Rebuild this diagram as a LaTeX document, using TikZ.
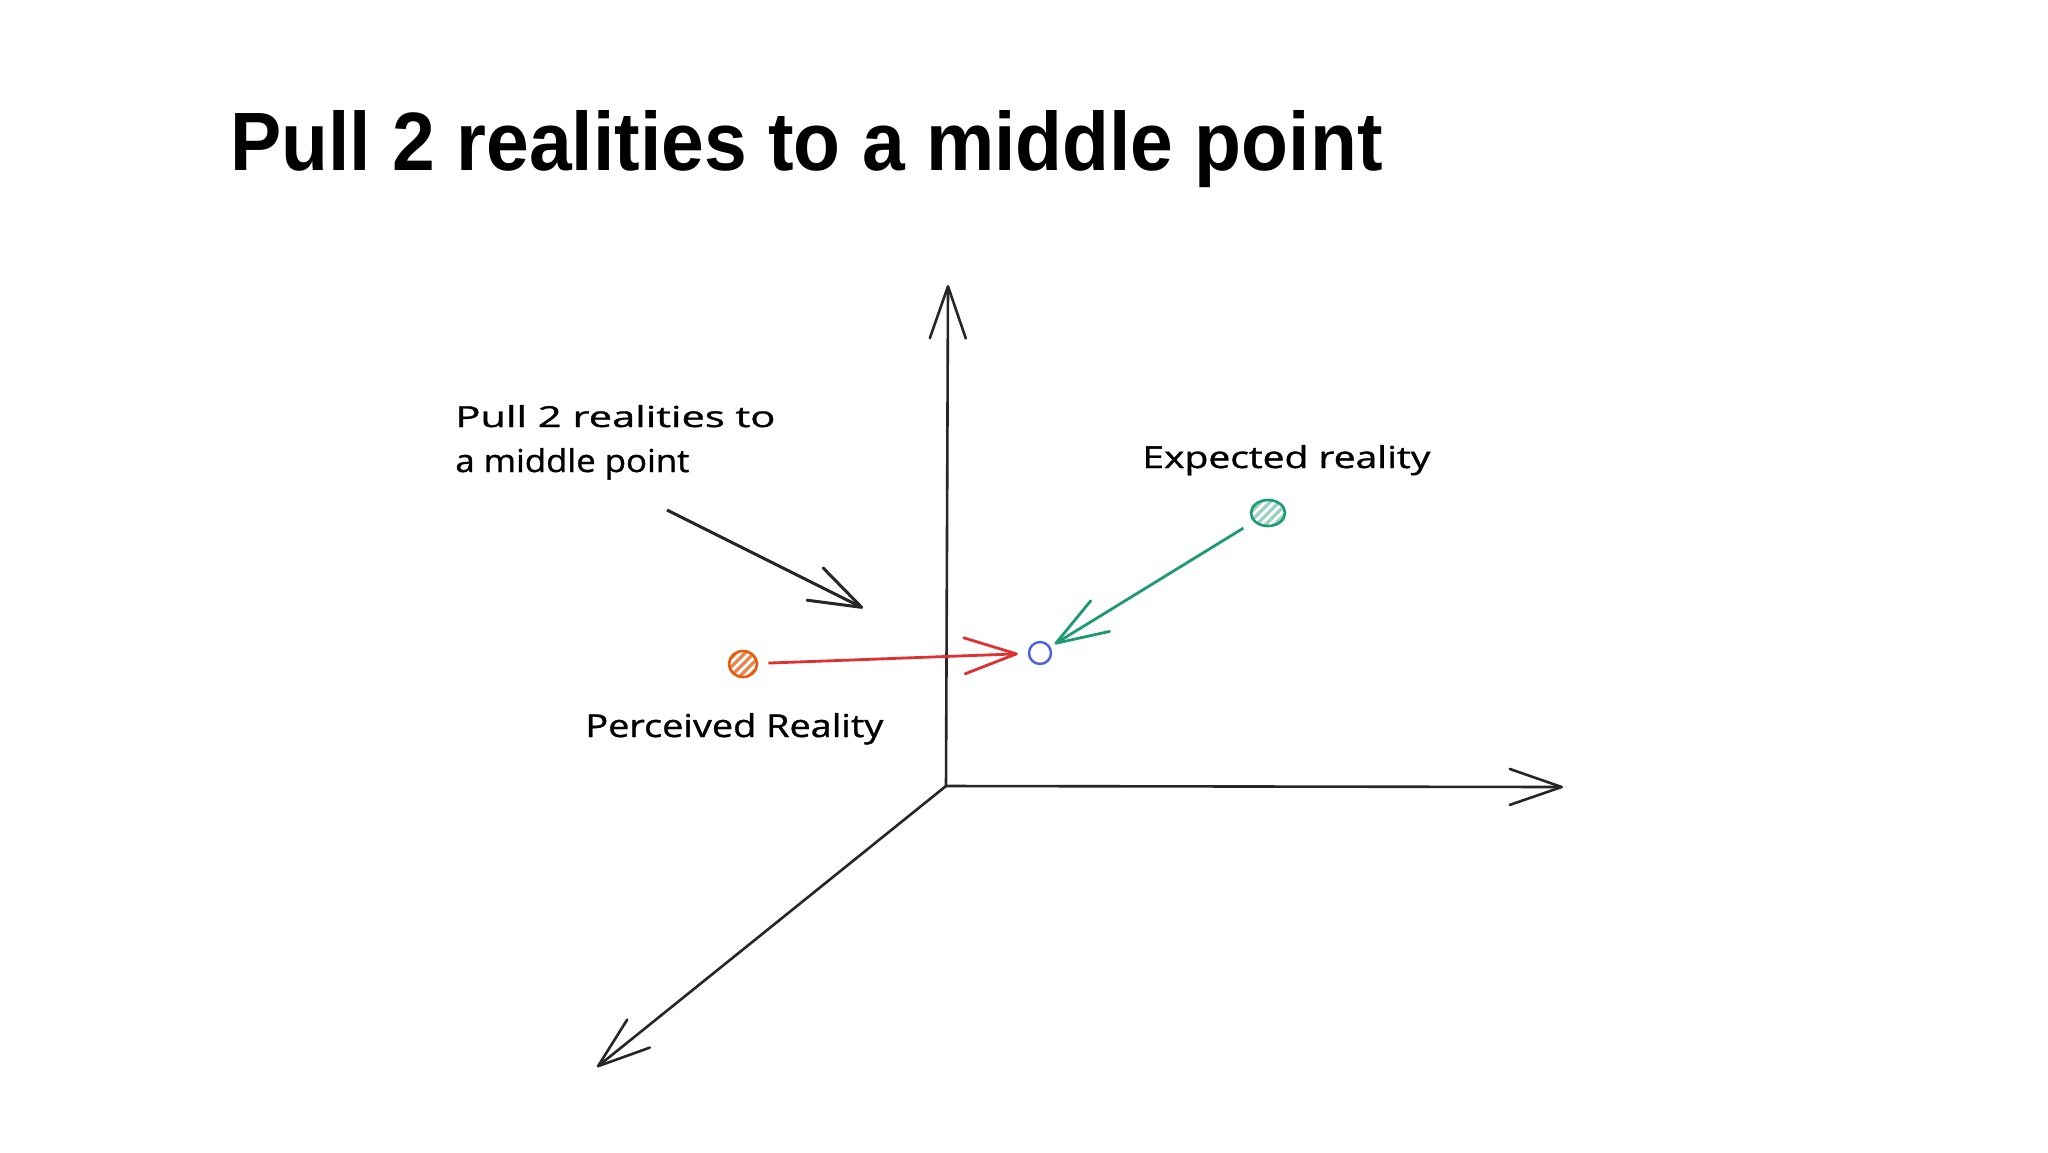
\documentclass[tikz,border=0pt]{standalone}
\usepackage{graphicx}
\usepackage{fontspec}
\setmainfont{Liberation Sans}
\newfontfamily\handfont{Open Sans}[FakeBold=1]
\usetikzlibrary{arrows.meta,shapes.geometric}
\definecolor{sketchred}{HTML}{E03131}
\definecolor{sketchorange}{HTML}{E8590C}
\definecolor{sketchgreen}{HTML}{1E9A72}
\definecolor{sketchblue}{HTML}{4C5FE0}
\begin{document}
\begin{tikzpicture}[x=0.5pt,y=-0.5pt,
  barb/.style={-{Straight Barb[length=26pt,width=18pt,round]}},
  axis/.style={barb, draw=black!85, line width=1.3pt},
  pointer/.style={barb, draw=black!85, line width=1.5pt},
  pullred/.style={barb, draw=sketchred, line width=1.4pt},
  pullgreen/.style={barb, draw=sketchgreen, line width=1.4pt},
  hand/.style={font=\handfont, inner sep=0pt, anchor=base west, text=black},
  hatch/.style={path picture={
    \foreach \k in {-9,-4.5,0,4.5,9}
      \draw[line width=1.6pt, #1] ([shift={(\k pt-8pt,-8pt)}]path picture bounding box.center) -- ++(16pt,16pt);
  }},
  dot/.style={ellipse, inner sep=0pt, line width=1.3pt, fill=white}
]
\useasboundingbox (0,0) rectangle (2048,1152);
\fill[white] (0,0) rectangle (2048,1152);

% title
\node[anchor=base west, inner sep=0pt] (title) at (230,170)
  {\resizebox{576pt}{30pt}{\bfseries Pull 2 realities to a middle point}};

% axes
\coordinate (O) at (946,786);
\coordinate (Yend) at (948,285);
\coordinate (Xend) at (1563,787);
\coordinate (Zend) at (597,1067);
\draw[axis] (O) -- (Yend);
\draw[axis] (O) -- (Xend);
\draw[axis] (O) -- (Zend);

% labels
\node[hand] (note1) at (455,427) {\resizebox{160pt}{11pt}{Pull 2 realities to}};
\node[hand] (note2) at (455,472) {\resizebox{117pt}{12pt}{a middle point}};
\node[hand] (perclbl) at (585,737) {\resizebox{149pt}{12pt}{Perceived Reality}};
\node[hand] (explbl) at (1142,468) {\resizebox{144pt}{11.5pt}{Expected reality}};

% pointer
\coordinate (pa) at (667,510);
\coordinate (pb) at (863,608);
\draw[pointer] (pa) -- (pb);

% points
\node[dot, draw=sketchorange, hatch=sketchorange!75, minimum width=14pt, minimum height=13pt] (perc) at (743,664) {};
\node[dot, draw=sketchgreen, hatch=sketchgreen!45, minimum width=17pt, minimum height=13pt] (exp) at (1268,513) {};
\node[dot, draw=sketchblue, line width=1.2pt, minimum width=11pt, minimum height=11pt] (mid) at (1040,653) {};

% pulls
\draw[pullred, shorten <=5pt, shorten >=5pt] (perc) -- (mid);
\draw[pullgreen, shorten <=6pt, shorten >=2.5pt] (exp) -- (mid);
\end{tikzpicture}
\end{document}
